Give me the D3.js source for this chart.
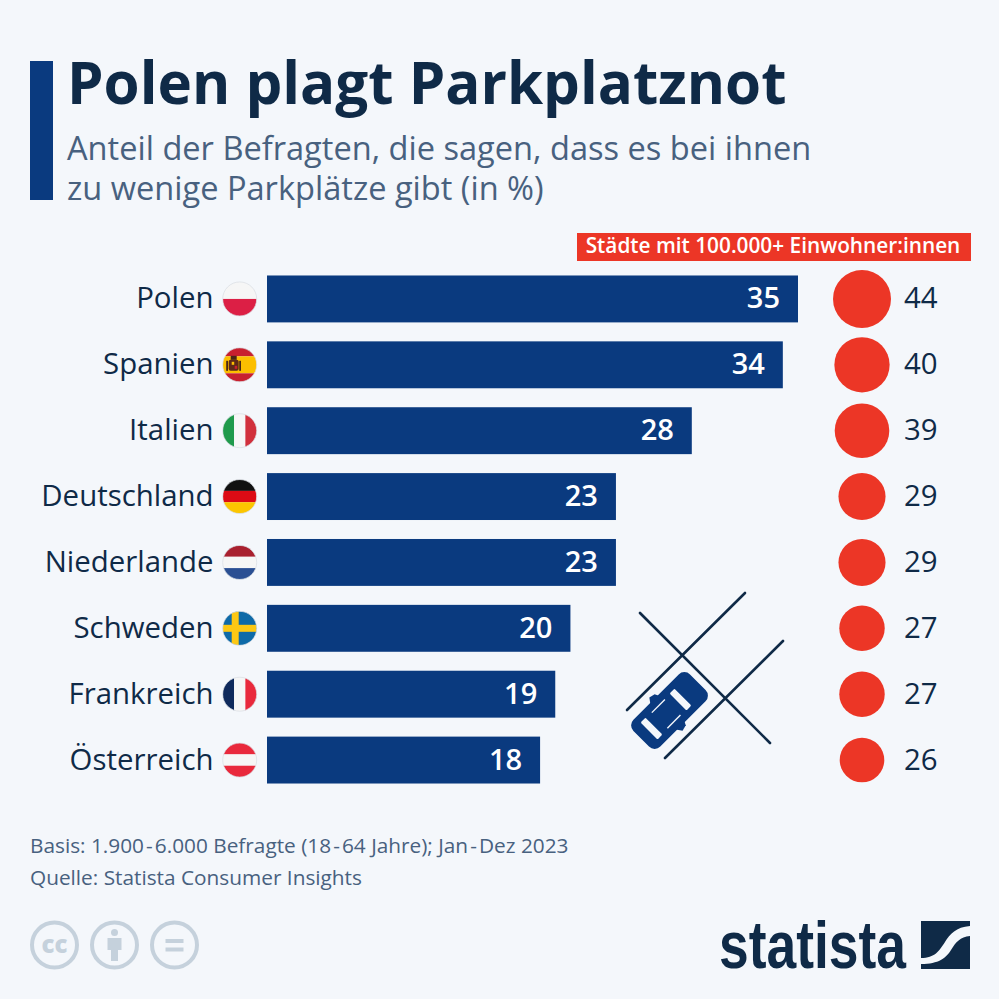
<!DOCTYPE html>
<html>
<head>
<meta charset="utf-8">
<script src="https://cdnjs.cloudflare.com/ajax/libs/d3/7.8.5/d3.min.js"></script>
<style>
  html, body { margin: 0; padding: 0; background: #f4f7fb; }
  text { font-family: "Open Sans", sans-serif; }
</style>
</head>
<body>
<script>
// data
var countries = ["Polen", "Spanien", "Italien", "Deutschland", "Niederlande", "Schweden", "Frankreich", "Österreich"];
var flagCodes = ["pl", "es", "it", "de", "nl", "se", "fr", "at"];
var allValues = [35, 34, 28, 23, 23, 20, 19, 18];
var cityValues = [44, 40, 39, 29, 29, 27, 27, 26];
var cityLabel = "Städte mit 100.000+ Einwohner:innen";
var titleText = "Polen plagt Parkplatznot";
var subtitleLines = ["Anteil der Befragten, die sagen, dass es bei ihnen", "zu wenige Parkplätze gibt (in %)"];
var footerLines = ["Basis: 1.900\u200A-\u200A6.000 Befragte (18\u200A-\u200A64 Jahre); Jan\u200A-\u200ADez 2023", "Quelle: Statista Consumer Insights"];

var navy = "#0a3a7f", dark = "#0f2a47", slate = "#48617f", red = "#ec3626", grey = "#c5d1dc", bg = "#f4f7fb";

var svg = d3.select("body").append("svg")
    .attr("width", 999)
    .attr("height", 999)
    .style("display", "block");

svg.append("rect").attr("width", 999).attr("height", 999).attr("fill", bg);

// header
svg.append("rect").attr("x", 30).attr("y", 61).attr("width", 23).attr("height", 139).attr("fill", navy);
svg.append("text").attr("x", 67).attr("y", 104).attr("font-size", 58.3).attr("font-weight", 700)
    .attr("fill", dark).text(titleText);
svg.selectAll("text.sub").data(subtitleLines).enter().append("text")
    .attr("class", "sub")
    .attr("x", 67)
    .attr("y", function(d, i) { return 160 + i * 40; })
    .attr("font-size", 32.6)
    .attr("fill", slate)
    .text(function(d) { return d; });

// scales
var x = d3.scaleLinear().domain([0, 35]).range([267, 798]);
var y = d3.scaleBand().domain(countries).range([266, 793]).paddingInner(0.288).paddingOuter(0.144);
var r = d3.scaleSqrt().domain([0, 44]).range([0, 29]);

var rows = countries.map(function(c, i) {
    return { name: c, code: flagCodes[i], all: allValues[i], city: cityValues[i] };
});

// bars
svg.selectAll("rect.bar").data(rows).enter().append("rect")
    .attr("class", "bar")
    .attr("x", x(0))
    .attr("y", function(d) { return y(d.name); })
    .attr("width", function(d) { return x(d.all) - x(0); })
    .attr("height", y.bandwidth())
    .attr("fill", navy);

svg.selectAll("text.val").data(rows).enter().append("text")
    .attr("class", "val")
    .attr("x", function(d) { return x(d.all) - 18; })
    .attr("y", function(d) { return y(d.name) + y.bandwidth() / 2 + 9.5; })
    .attr("text-anchor", "end")
    .attr("font-size", 29)
    .attr("font-weight", 600)
    .attr("fill", "#fff")
    .text(function(d) { return d.all; });

svg.selectAll("text.country").data(rows).enter().append("text")
    .attr("class", "country")
    .attr("x", 213.5)
    .attr("y", function(d) { return y(d.name) + y.bandwidth() / 2 + 9.5; })
    .attr("text-anchor", "end")
    .attr("font-size", 29.4)
    .attr("fill", dark)
    .text(function(d) { return d.name; });

// city column
svg.append("rect").attr("x", 577).attr("y", 233).attr("width", 394).attr("height", 28).attr("fill", red);
svg.append("text").attr("x", 773).attr("y", 253).attr("text-anchor", "middle")
    .attr("font-size", 20.8).attr("font-weight", 600).attr("fill", "#fff").text(cityLabel);

svg.selectAll("circle.city").data(rows).enter().append("circle")
    .attr("class", "city")
    .attr("cx", 862)
    .attr("cy", function(d) { return y(d.name) + y.bandwidth() / 2; })
    .attr("r", function(d) { return r(d.city); })
    .attr("fill", red);

svg.selectAll("text.cityval").data(rows).enter().append("text")
    .attr("class", "cityval")
    .attr("x", 904)
    .attr("y", function(d) { return y(d.name) + y.bandwidth() / 2 + 9.5; })
    .attr("font-size", 29.4)
    .attr("fill", dark)
    .text(function(d) { return d.city; });

// flags, all drawn in a 34px box centred on the row
var defs = svg.append("defs");
defs.append("clipPath").attr("id", "flagClip").append("circle").attr("r", 17);

var flags = svg.selectAll("g.flag").data(rows).enter().append("g")
    .attr("class", "flag")
    .attr("transform", function(d) { return "translate(239.7," + (y(d.name) + y.bandwidth() / 2) + ")"; });

var inner = flags.append("g").attr("clip-path", "url(#flagClip)");

function hStripes(g, cols, stops) {
    cols.forEach(function(c, i) {
        g.append("rect").attr("x", -17).attr("width", 34)
            .attr("y", stops[i]).attr("height", stops[i + 1] - stops[i]).attr("fill", c);
    });
}
function vStripes(g, cols) {
    cols.forEach(function(c, i) {
        g.append("rect").attr("y", -17).attr("height", 34)
            .attr("x", -17 + i * 34 / 3).attr("width", 34 / 3 + 0.3).attr("fill", c);
    });
}

inner.each(function(d) {
    var g = d3.select(this);
    var thirds = [-17, -17 / 3, 17 / 3, 17];
    if (d.code == "pl") hStripes(g, ["#f6f6f6", "#dc1f45"], [-17, 0, 17]);
    if (d.code == "es") {
        hStripes(g, ["#c8202f", "#fcbf00", "#c8202f"], [-17, -8.5, 8.5, 17]);
        // rough coat of arms
        g.append("rect").attr("x", -11).attr("y", -5).attr("width", 10).attr("height", 11).attr("rx", 2).attr("fill", "#5e2a18");
        g.append("rect").attr("x", -9).attr("y", -9).attr("width", 6).attr("height", 4).attr("fill", "#4a2616");
        g.append("rect").attr("x", -8).attr("y", -3).attr("width", 2.5).attr("height", 3).attr("fill", "#fcbf00");
        g.append("rect").attr("x", -5).attr("y", 1).attr("width", 2.5).attr("height", 3).attr("fill", "#c8202f");
        g.append("rect").attr("x", -13.5).attr("y", -4).attr("width", 1.8).attr("height", 10).attr("fill", "#4a2616");
        g.append("rect").attr("x", -0.5).attr("y", -4).attr("width", 1.8).attr("height", 10).attr("fill", "#4a2616");
    }
    if (d.code == "it") vStripes(g, ["#1f9a4b", "#f6f6f6", "#d1303c"]);
    if (d.code == "de") hStripes(g, ["#111111", "#dd0b15", "#fcc600"], thirds);
    if (d.code == "nl") hStripes(g, ["#a9202f", "#f6f6f6", "#2a4f93"], thirds);
    if (d.code == "se") {
        g.append("rect").attr("x", -17).attr("y", -17).attr("width", 34).attr("height", 34).attr("fill", "#0e6aa8");
        g.append("rect").attr("x", -17).attr("y", -3.5).attr("width", 34).attr("height", 7).attr("fill", "#fcc814");
        g.append("rect").attr("x", -8).attr("y", -17).attr("width", 7).attr("height", 34).attr("fill", "#fcc814");
    }
    if (d.code == "fr") vStripes(g, ["#0f2a5c", "#f6f6f6", "#e9293c"]);
    if (d.code == "at") hStripes(g, ["#e9293c", "#f6f6f6", "#e9293c"], thirds);
});
flags.append("circle").attr("r", 17).attr("fill", "none").attr("stroke", "#d8dde3").attr("stroke-width", 0.7);

// parking lines and car
var lines = [[627, 710, 745, 593], [640, 613, 770, 743], [665, 758, 783, 641]];
svg.selectAll("line.park").data(lines).enter().append("line")
    .attr("class", "park")
    .attr("x1", function(d) { return d[0]; })
    .attr("y1", function(d) { return d[1]; })
    .attr("x2", function(d) { return d[2]; })
    .attr("y2", function(d) { return d[3]; })
    .attr("stroke", dark)
    .attr("stroke-width", 2.6)
    .attr("stroke-linecap", "round");

var car = svg.append("g").attr("transform", "translate(669.5,710.5) rotate(-45)");
car.append("rect").attr("x", -40).attr("y", -19).attr("width", 80).attr("height", 38).attr("rx", 8).attr("fill", navy);
// mirrors
car.append("path").attr("d", "M-9,-18 L-5,-23.5 L1,-22 L3,-18 Z").attr("fill", navy);
car.append("path").attr("d", "M-9,18 L-5,23.5 L1,22 L3,18 Z").attr("fill", navy);
// windscreens and side windows
car.append("rect").attr("x", 12).attr("y", -12).attr("width", 7).attr("height", 24).attr("rx", 1.5).attr("fill", bg);
car.append("rect").attr("x", -29).attr("y", -12).attr("width", 7).attr("height", 24).attr("rx", 1.5).attr("fill", bg);
car.append("line").attr("x1", -14).attr("x2", 4.5).attr("y1", -11).attr("y2", -11).attr("stroke", bg).attr("stroke-width", 1.4);
car.append("line").attr("x1", -14).attr("x2", 4.5).attr("y1", 11).attr("y2", 11).attr("stroke", bg).attr("stroke-width", 1.4);

// footer
svg.selectAll("text.foot").data(footerLines).enter().append("text")
    .attr("class", "foot")
    .attr("x", 30)
    .attr("y", function(d, i) { return 853 + i * 32; })
    .attr("font-size", 20.8)
    .attr("fill", slate)
    .text(function(d) { return d; });

// licence icons
var icons = svg.selectAll("g.cc").data(["cc", "by", "nd"]).enter().append("g")
    .attr("class", "cc")
    .attr("transform", function(d, i) { return "translate(" + (54.5 + i * 60) + ",945)"; });
icons.append("circle").attr("r", 22.5).attr("fill", "none").attr("stroke", grey).attr("stroke-width", 4);
icons.each(function(d) {
    var g = d3.select(this);
    if (d == "cc") {
        g.append("text").attr("text-anchor", "middle").attr("y", 8).attr("font-size", 24)
            .attr("font-weight", 800).attr("fill", grey).text("cc");
    }
    if (d == "by") {
        g.append("circle").attr("cy", -12.5).attr("r", 3.5).attr("fill", grey);
        g.append("path").attr("d", "M-7,-7 H7 V5 H3.5 V16 H-3.5 V5 H-7 Z").attr("fill", grey);
    }
    if (d == "nd") {
        g.append("rect").attr("x", -9).attr("y", -6).attr("width", 18).attr("height", 4).attr("fill", grey);
        g.append("rect").attr("x", -9).attr("y", 2.5).attr("width", 18).attr("height", 4).attr("fill", grey);
    }
});

// statista logo
svg.append("text").attr("x", 719).attr("y", 968)
    .style("font-family", "'Liberation Sans Narrow', sans-serif")
    .attr("font-size", 67).attr("font-weight", 700)
    .attr("textLength", 187).attr("lengthAdjust", "spacingAndGlyphs")
    .attr("fill", dark).text("statista");
var logo = svg.append("g").attr("transform", "translate(921,921)");
logo.append("rect").attr("width", 49).attr("height", 48).attr("fill", dark);
logo.append("path")
    .attr("d", "M0,37 C14,37 18,30 24,21 C29,13 35,6 49,5 L49,15 C39,16 35,21 30,29 C25,37 18,43 0,43 Z")
    .attr("fill", bg);
</script>
</body>
</html>
